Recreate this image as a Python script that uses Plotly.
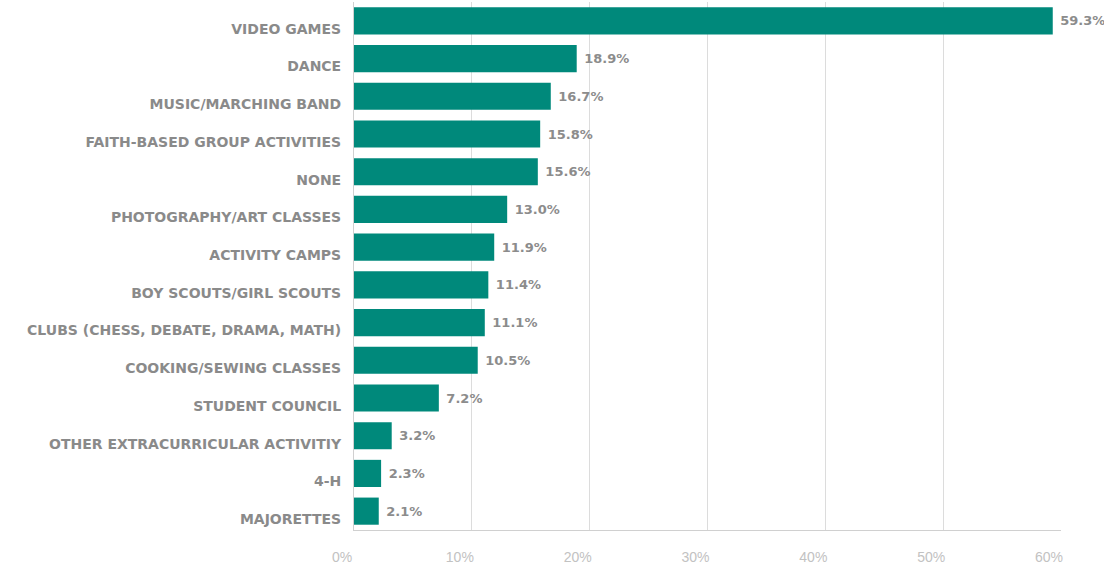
import plotly.graph_objects as go

categories = ["VIDEO GAMES", "DANCE", "MUSIC/MARCHING BAND", "FAITH-BASED GROUP ACTIVITIES",
              "NONE", "PHOTOGRAPHY/ART CLASSES", "ACTIVITY CAMPS", "BOY SCOUTS/GIRL SCOUTS",
              "CLUBS (CHESS, DEBATE, DRAMA, MATH)", "COOKING/SEWING CLASSES", "STUDENT COUNCIL",
              "OTHER EXTRACURRICULAR ACTIVITIY", "4-H", "MAJORETTES"]
values = [59.3, 18.9, 16.7, 15.8, 15.6, 13.0, 11.9, 11.4, 11.1, 10.5, 7.2, 3.2, 2.3, 2.1]
tick_vals = [0, 10, 20, 30, 40, 50, 60]
tick_text = ["0%", "10%", "20%", "30%", "40%", "50%", "60%"]

fig = go.Figure(go.Bar(
    x=values, y=categories, orientation="h",
    marker=dict(color="#00897b", line=dict(width=0)),
    width=0.72,
    text=[f" {v:.1f}%" for v in values],
    textposition="outside",
    cliponaxis=False,
    textfont=dict(family="DejaVu Sans, sans-serif", size=13, color="#8c8c8c", weight="bold"),
))

fig.update_layout(
    width=1104, height=573,
    margin=dict(l=354, r=43, t=2, b=43),
    plot_bgcolor="white", paper_bgcolor="white",
    showlegend=False,
    font=dict(family="Arial, sans-serif"),
)
fig.update_xaxes(
    range=[0, 60], tickvals=tick_vals, ticktext=tick_text,
    showgrid=True, gridcolor="#dcdcdc", gridwidth=1,
    showline=True, linecolor="#d0d0d0", linewidth=1,
    zeroline=False,
    tickfont=dict(size=14, color="#c2c2c2"),
    ticks="", ticklabelstandoff=14, ticklabelshift=-12,
)
fig.update_yaxes(
    autorange="reversed",
    showline=True, linecolor="#d0d0d0", linewidth=1,
    tickfont=dict(family="DejaVu Sans, sans-serif", size=14, color="#8a8a8a", weight="bold"),
    ticks="", ticklabelstandoff=9, ticklabelshift=-8,
)
fig.write_html("out.html", config={"displayModeBar": False},
               post_script="document.body.style.margin='0';")
